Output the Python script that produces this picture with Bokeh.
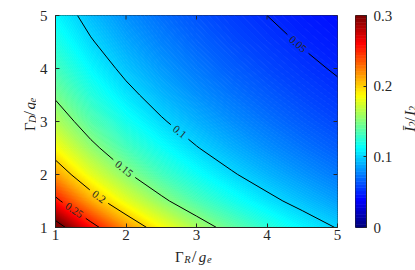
import numpy as np
from bokeh.plotting import figure
from bokeh.plotting.contour import contour_data
from bokeh.models import ColumnDataSource, LinearColorMapper, FixedTicker, Range1d
from bokeh.layouts import row, column
from bokeh.core.properties import value
from bokeh.embed import file_html
from bokeh.resources import INLINE

# ---------------- data ----------------
gamma_r = [1.0, 1.5, 2.0, 2.5, 3.0, 3.5, 4.0, 4.5, 5.0]   # Gamma_R / g_e
gamma_d = [1.0, 1.5, 2.0, 2.5, 3.0, 3.5, 4.0, 4.5, 5.0]   # Gamma_D / g_e
# rows: Gamma_D (bottom -> top), columns: Gamma_R (left -> right)
ratio = [
    [0.3155, 0.2602, 0.2188, 0.1868, 0.1616, 0.1412, 0.1245, 0.1107, 0.0991],
    [0.2564, 0.2128, 0.1800, 0.1547, 0.1346, 0.1183, 0.1050, 0.0939, 0.0845],
    [0.2160, 0.1799, 0.1529, 0.1320, 0.1153, 0.1019, 0.0907, 0.0815, 0.0736],
    [0.1866, 0.1559, 0.1329, 0.1151, 0.1009, 0.0894, 0.0799, 0.0719, 0.0652],
    [0.1642, 0.1375, 0.1175, 0.1020, 0.0897, 0.0797, 0.0714, 0.0644, 0.0585],
    [0.1466, 0.1230, 0.1053, 0.0916, 0.0807, 0.0718, 0.0645, 0.0583, 0.0531],
    [0.1325, 0.1113, 0.0954, 0.0831, 0.0734, 0.0654, 0.0588, 0.0533, 0.0486],
    [0.1208, 0.1016, 0.0872, 0.0761, 0.0672, 0.0600, 0.0541, 0.0490, 0.0448],
    [0.1110, 0.0934, 0.0803, 0.0702, 0.0621, 0.0555, 0.0500, 0.0454, 0.0415],
]
contour_levels = [0.05, 0.10, 0.15, 0.20, 0.25, 0.30]
contour_labels = {0.05: "0.05", 0.10: "0.1", 0.15: "0.15", 0.20: "0.2", 0.25: "0.25"}
x_ticks = [1, 2, 3, 4, 5]
y_ticks = [1, 2, 3, 4, 5]
cbar_ticks = [0.0, 0.1, 0.2, 0.3]
cbar_tick_labels = ["0", "0.1", "0.2", "0.3"]
c_low, c_high = 0.0, 0.3

# ---------------- style ----------------
FONT = "Liberation Serif"
INK = "#262626"
FW, FH = 282, 212
TOP, BOT = 15, 19
MAIN_L, MAIN_R = 16, 10
LEFT_W, CB_L, CB_W, CB_R, RIGHT_W = 36, 8, 11, 25, 27
X_TITLE_H = 24
X0, X1, Y0, Y1 = 1.0, 5.0, 1.0, 5.0
TICK = 4
ROW_H = TOP + FH + BOT
# where along each contour (fraction of its length) the inline label sits
LABEL_FRAC = {0.05: 0.45, 0.10: 0.46, 0.15: 0.47, 0.20: 0.5, 0.25: 0.43}


def jet(n):
    cols = []
    for i in range(n):
        t = i / (n - 1)
        r = min(max(1.5 - abs(4 * t - 3), 0), 1)
        g = min(max(1.5 - abs(4 * t - 2), 0), 1)
        b = min(max(1.5 - abs(4 * t - 1), 0), 1)
        cols.append("#%02x%02x%02x" % (round(r * 255), round(g * 255), round(b * 255)))
    return cols


JET_FINE = jet(256)
JET64 = jet(64)
fill_mapper = LinearColorMapper(palette=JET_FINE, low=c_low, high=c_high)

z = np.array(ratio, dtype=float)
xg = np.array(gamma_r, dtype=float)
yg = np.array(gamma_d, dtype=float)

p = figure(frame_width=FW, frame_height=FH, x_range=Range1d(X0, X1), y_range=Range1d(Y0, Y1),
           output_backend="svg", toolbar_location=None,
           min_border_left=MAIN_L, min_border_top=TOP,
           min_border_right=MAIN_R, min_border_bottom=BOT)
p.grid.visible = False
p.outline_line_color = INK
p.background_fill_color = "white"
p.border_fill_color = "white"

# ---- filled colour field ----
fill_levels = list(np.linspace(c_low, c_high, 257)) + [1.0]
fd = contour_data(xg, yg, z, levels=fill_levels, want_line=False).fill_data
mids = [(lo + hi) / 2 for lo, hi in zip(fd.lower_levels, fd.upper_levels)]
fsrc = ColumnDataSource(dict(xs=fd.xs, ys=fd.ys, mid=mids))
p.multi_polygons(xs="xs", ys="ys", source=fsrc,
                 fill_color={"field": "mid", "transform": fill_mapper},
                 line_color={"field": "mid", "transform": fill_mapper}, line_width=0.8)

# ---- contour lines with inline labels ----
ld = contour_data(xg, yg, z, levels=contour_levels, want_fill=False).line_data
sxp = FW / (X1 - X0)
syp = FH / (Y1 - Y0)
LAB_SIZE = 11
line_xs, line_ys = [], []
lab_x, lab_y, lab_t, lab_a = [], [], [], []
for lev, lx, ly in zip(ld.levels, ld.xs, ld.ys):
    lx = np.asarray(lx, dtype=float)
    ly = np.asarray(ly, dtype=float)
    key = round(float(lev), 2)
    if key not in contour_labels or len(lx) < 2:
        line_xs.append(list(lx)); line_ys.append(list(ly))
        continue
    txt = contour_labels[key]
    idx = np.where(np.isnan(lx))[0]
    bounds = [-1] + list(idx) + [len(lx)]
    segs = [(bounds[k] + 1, bounds[k + 1]) for k in range(len(bounds) - 1)
            if bounds[k + 1] - bounds[k] > 2]
    lens = []
    for a, b in segs:
        px = (lx[a:b] - X0) * sxp; py = (ly[a:b] - Y0) * syp
        lens.append(np.hypot(np.diff(px), np.diff(py)).sum())
    best = int(np.argmax(lens))
    outx, outy = [], []
    for k, (a, b) in enumerate(segs):
        sx, sy = lx[a:b], ly[a:b]
        if k != best:
            outx += list(sx) + [np.nan]; outy += list(sy) + [np.nan]
            continue
        # orient every contour from the left/top end towards the right/bottom end
        if sx[0] > sx[-1]:
            sx, sy = sx[::-1], sy[::-1]
        px = (sx - X0) * sxp; py = (sy - Y0) * syp
        s = np.concatenate([[0.0], np.cumsum(np.hypot(np.diff(px), np.diff(py)))])
        m = LABEL_FRAC.get(key, 0.5) * s[-1]
        gap = LAB_SIZE * (0.5 * sum(ch.isdigit() for ch in txt) + 0.25) + 9
        s0, s1 = m - gap / 2, m + gap / 2
        xa, ya = np.interp(s0, s, sx), np.interp(s0, s, sy)
        xb, yb = np.interp(s1, s, sx), np.interp(s1, s, sy)
        outx += list(sx[s < s0]) + [xa, np.nan, xb] + list(sx[s > s1]) + [np.nan]
        outy += list(sy[s < s0]) + [ya, np.nan, yb] + list(sy[s > s1]) + [np.nan]
        ang = np.arctan2((yb - ya) * syp, (xb - xa) * sxp)
        if ang > np.pi / 2:
            ang -= np.pi
        if ang < -np.pi / 2:
            ang += np.pi
        lab_x.append(float(np.interp(m, s, sx))); lab_y.append(float(np.interp(m, s, sy)))
        lab_t.append(txt); lab_a.append(float(ang))
    line_xs.append(outx); line_ys.append(outy)

p.multi_line(xs=line_xs, ys=line_ys, line_color="black", line_width=1)
p.text(x=lab_x, y=lab_y, text=lab_t, angle=lab_a, text_font=value(FONT),
       text_font_size="%dpx" % LAB_SIZE, text_color=INK, text_align="center",
       text_baseline="middle")

# ---- axes ----
for ax, ticks in ((p.xaxis[0], x_ticks), (p.yaxis[0], y_ticks)):
    ax.ticker = FixedTicker(ticks=ticks)
    ax.major_tick_in = TICK
    ax.major_tick_out = 0
    ax.minor_tick_line_color = None
    ax.major_tick_line_color = INK
    ax.axis_line_color = INK
    ax.major_label_text_font = FONT
    ax.major_label_text_font_size = "15px"
    ax.major_label_text_color = INK
p.xaxis.major_label_standoff = 2
p.yaxis.major_label_standoff = 8

# inward ticks on the top and right edges of the box
tick_dx = TICK / sxp
tick_dy = TICK / syp
p.segment(x0=x_ticks, y0=[Y1] * len(x_ticks), x1=x_ticks, y1=[Y1 - tick_dy] * len(x_ticks),
          line_color=INK, line_width=1)
p.segment(x0=[X1] * len(y_ticks), y0=y_ticks, x1=[X1 - tick_dx] * len(y_ticks), y1=y_ticks,
          line_color=INK, line_width=1)

# ---- colour bar as its own small figure ----
pc = figure(frame_width=CB_W, frame_height=FH, x_range=Range1d(0, 1),
            y_range=Range1d(c_low, c_high), output_backend="svg", toolbar_location=None,
            x_axis_type=None, y_axis_location="right",
            min_border_left=CB_L, min_border_right=CB_R, min_border_top=TOP,
            min_border_bottom=BOT)
pc.grid.visible = False
pc.outline_line_color = INK
pc.border_fill_color = "white"
cb_edges = np.linspace(c_low, c_high, len(JET64) + 1)
pc.quad(left=0, right=1, bottom=cb_edges[:-1], top=cb_edges[1:],
        fill_color=JET64, line_color=JET64, line_width=0.6)
cax = pc.yaxis[0]
cax.ticker = FixedTicker(ticks=cbar_ticks)
cax.major_label_overrides = {t: s for t, s in zip(cbar_ticks, cbar_tick_labels)}
cax.major_tick_in = 3
cax.major_tick_out = 0
cax.minor_tick_line_color = None
cax.major_tick_line_color = INK
cax.axis_line_color = INK
cax.major_label_text_font = FONT
cax.major_label_text_font_size = "15px"
cax.major_label_text_color = INK
cax.major_label_standoff = 7


# ---- title strips: sub-scripted titles made of real text pieces ----
def strip(w, h):
    s = figure(width=w, height=h, x_range=Range1d(0, w), y_range=Range1d(0, h),
               output_backend="svg", toolbar_location=None, min_border=0,
               x_axis_type=None, y_axis_type=None)
    s.grid.visible = False
    s.outline_line_color = None
    s.border_fill_color = "white"
    return s


def put(s, parts, x0, y0, vertical):
    xs, ys, ts, sizes, styles = [], [], [], [], []
    pos = 0.0
    for txt, size, style, shift, adv in parts:
        if vertical:
            xs.append(x0 + shift); ys.append(y0 + pos)
        else:
            xs.append(x0 + pos); ys.append(y0 - shift)
        ts.append(txt); sizes.append("%spx" % size); styles.append(style)
        pos += adv
    src = ColumnDataSource(dict(x=xs, y=ys, t=ts, size=sizes, style=styles))
    s.text(x="x", y="y", text="t", source=src, text_font=value(FONT),
           text_font_size="size", text_font_style="style", text_color=INK,
           text_align="left", text_baseline="alphabetic",
           angle=np.pi / 2 if vertical else 0.0)


x_title = [("\u0393", 15, "normal", 0, 9.3), ("R", 10.5, "italic", 3, 7.6),
           ("/", 17, "normal", 0, 7.0), ("g", 15, "italic", 0, 8.3), ("e", 10.5, "italic", 3, 5.0)]
y_title = [("\u0393", 15, "normal", 0, 9.3), ("D", 10.5, "italic", 3, 8.6),
           ("/", 17, "normal", 0, 7.0), ("g", 15, "italic", 0, 8.3), ("e", 10.5, "italic", 3, 5.0)]
c_title = [("\u012A", 15, "italic", 0, 6.5), ("2", 10.5, "normal", 3, 5.5),
           ("/", 15, "normal", 0, 6.5), ("I", 15, "italic", 0, 5.8), ("2", 10.5, "normal", 3, 5.5)]


def total(parts):
    return sum(pp[4] for pp in parts)


left = strip(LEFT_W, ROW_H)
put(left, y_title, 29, ROW_H - TOP - FH / 2 + 6 - total(y_title) / 2, True)

right = strip(RIGHT_W, ROW_H)
put(right, c_title, 14, ROW_H - TOP - FH / 2 + 1 - total(c_title) / 2, True)

ROW_W = LEFT_W + MAIN_L + FW + MAIN_R + CB_L + CB_W + CB_R + RIGHT_W
bottom = strip(ROW_W, X_TITLE_H)
put(bottom, x_title, LEFT_W + MAIN_L + FW / 2 - total(x_title) / 2, 14, False)

layout = column(row(left, p, pc, right), bottom)
open("out.html", "w").write(file_html(layout, INLINE))
